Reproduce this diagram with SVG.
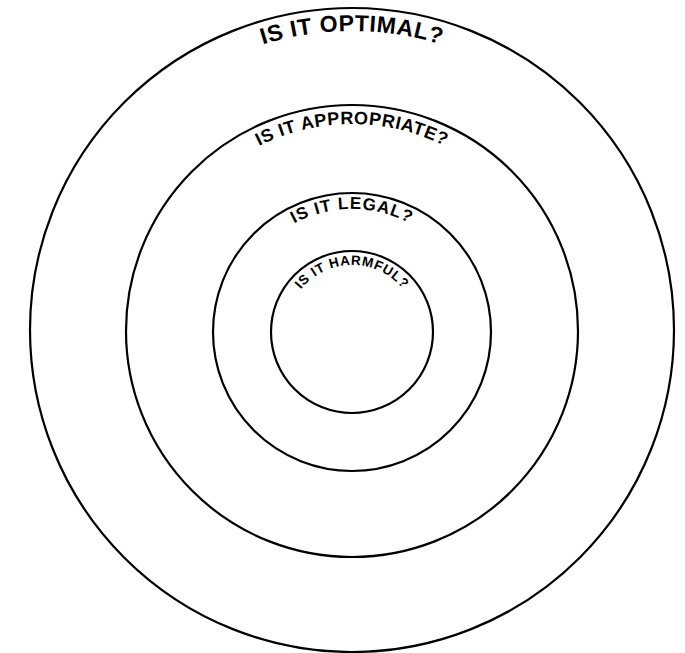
<svg xmlns="http://www.w3.org/2000/svg" xmlns:xlink="http://www.w3.org/1999/xlink" width="685" height="653" viewBox="0 0 685 653">
  <style>
    .ring { fill: none; stroke: #000; stroke-width: 2.2; }
    .lbl { font-family: "Liberation Sans", Arial, sans-serif; font-weight: bold; fill: #000; }
  </style>
  <defs>
    <path id="p1" d="M 52 331 A 300 300 0 0 1 652 331"/>
    <path id="p2" d="M 145 331 A 207 207 0 0 1 559 331"/>
    <path id="p3" d="M 230 331 A 122 122 0 0 1 474 331"/>
    <path id="p4" d="M 286 331 A 66 66 0 0 1 418 331"/>
  </defs>
  <rect width="685" height="653" fill="#fff"/>
  <g id="optimal">
    <circle class="ring" cx="352" cy="330" r="322"/>
    <text class="lbl" font-size="23" letter-spacing="0.6"><textPath xlink:href="#p1" href="#p1" startOffset="50%" text-anchor="middle">IS IT OPTIMAL?</textPath></text>
  </g>
  <g id="appropriate">
    <circle class="ring" cx="352" cy="331" r="226"/>
    <text class="lbl" font-size="18" letter-spacing="0.6"><textPath xlink:href="#p2" href="#p2" startOffset="50%" text-anchor="middle">IS IT APPROPRIATE?</textPath></text>
  </g>
  <g id="legal">
    <circle class="ring" cx="352" cy="332" r="139"/>
    <text class="lbl" font-size="17" letter-spacing="1"><textPath xlink:href="#p3" href="#p3" startOffset="50%" text-anchor="middle">IS IT LEGAL?</textPath></text>
  </g>
  <g id="harmful">
    <circle class="ring" cx="352" cy="332" r="81"/>
    <text class="lbl" font-size="13.5" letter-spacing="0.7"><textPath xlink:href="#p4" href="#p4" startOffset="50%" text-anchor="middle">IS IT HARMFUL?</textPath></text>
  </g>
</svg>
